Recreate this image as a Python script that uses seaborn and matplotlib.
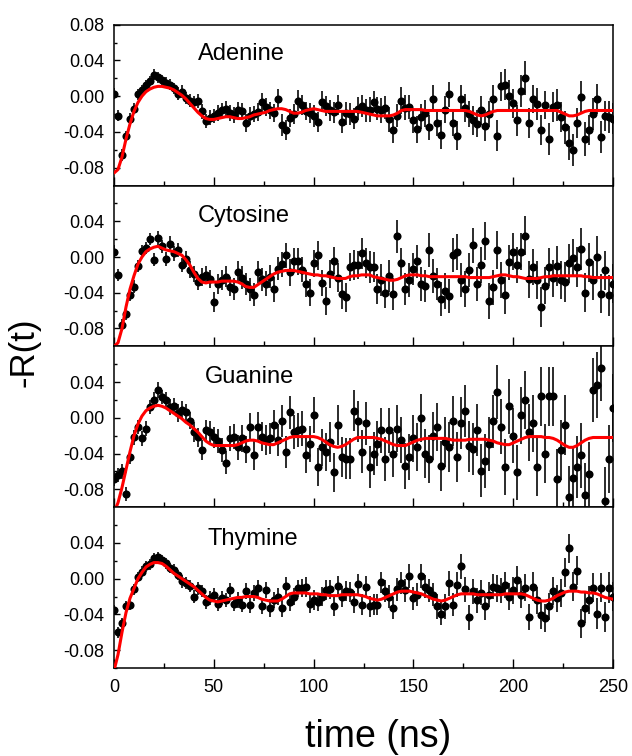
import numpy as np
import pandas as pd
import matplotlib
matplotlib.use("Agg")
import matplotlib.pyplot as plt
import seaborn as sns
from matplotlib.ticker import MultipleLocator, FixedLocator, FormatStrFormatter

# ---------------- data (values in units of 1e-3) ----------------
SCALE = 1e-3
time_ns = list(range(0, 251, 2))
bases = ["Adenine", "Cytosine", "Guanine", "Thymine"]

adenine_data = [
    3, -22, -66, -45, -25, -14, 2, 7, 12, 17,
    24, 21, 18, 15, 13, 9, 3, 5, -2, -5,
    -7, -5, -17, -28, -24, -22, -19, -16, -14, -19,
    -21, -16, -17, -30, -22, -20, -18, -7, -12, -16,
    -19, -3, -32, -38, -24, -20, -5, -10, -17, -19,
    -22, -29, -6, -11, -16, -18, -10, -29, -19, -20,
    -25, -14, -11, -16, -15, -6, -14, -16, -13, -26,
    -38, -22, -5, -13, -12, -27, -37, -23, -19, -35,
    -3, -30, -43, -15, 2, -30, -44, -3, -13, -20,
    -27, -31, -16, -33, -20, -3, -44, 11, 13, 0,
    -8, -27, 6, 20, -30, -3, -9, -38, -10, -48,
    -12, -10, -23, -35, -52, -60, -30, -1, -48, -38,
    -20, -3, -46, -22, -23, -25]
adenine_err = [
    6, 6, 7, 6, 6, 6, 6, 6, 6, 6,
    6, 6, 6, 6, 6, 6, 7, 7, 7, 7,
    7, 8, 8, 8, 8, 8, 9, 8, 9, 9,
    9, 10, 9, 10, 10, 9, 10, 11, 10, 10,
    10, 11, 12, 11, 10, 11, 12, 11, 10, 11,
    12, 11, 12, 11, 12, 12, 11, 12, 13, 12,
    12, 13, 12, 13, 14, 12, 13, 14, 13, 14,
    14, 13, 15, 14, 13, 14, 15, 14, 15, 14,
    15, 14, 16, 15, 14, 15, 16, 15, 16, 15,
    16, 15, 16, 17, 15, 16, 17, 16, 17, 18,
    16, 17, 18, 19, 17, 16, 18, 17, 16, 18,
    17, 18, 17, 18, 19, 18, 17, 18, 19, 17,
    18, 17, 18, 17, 18, 17]
adenine_fit = [
    -86, -82, -68, -48, -31, -17, -7, 0, 5, 8,
    10, 11, 11, 10, 9, 7, 4, 1, -3, -8,
    -13, -18, -22, -25, -26, -26, -25, -24, -23, -23,
    -24, -25, -25, -24, -23, -21, -20, -19, -18, -16,
    -15, -14, -14, -15, -17, -19, -19, -18, -16, -15,
    -14, -15, -16, -17, -17, -17, -17, -17, -17, -17,
    -17, -17, -18, -19, -20, -21, -22, -22, -22, -22,
    -21, -19, -16, -15, -15, -15, -15, -15, -16, -16,
    -16, -16, -16, -16, -16, -16, -16, -16, -16, -17,
    -19, -21, -22, -21, -19, -17, -16, -16, -16, -16,
    -16, -16, -16, -16, -16, -16, -16, -16, -16, -16,
    -16, -16, -18, -20, -22, -22, -21, -19, -17, -16,
    -16, -16, -16, -16, -16, -16]

cytosine_data = [
    6, -20, -76, -64, -42, -33, -10, 7, 10, 20,
    -3, 21, 12, -2, 15, 4, 8, -9, -2, -14,
    -19, -28, -22, -20, -25, -50, -30, -26, -22, -33,
    -36, -17, -23, -30, -36, -42, -17, -25, -30, -22,
    -36, -13, -8, 2, -17, -4, -5, -14, -30, -40,
    -7, 2, -29, -49, -19, -4, -23, -41, -45, -11,
    -9, -9, 4, -7, -11, -11, -36, -26, -40, -21,
    -41, 23, -7, -36, -26, -13, -5, -30, -32, 8,
    -21, -30, -47, -38, -44, 2, 6, -26, -36, -15,
    13, -30, -9, 18, -49, -34, 8, -26, -43, -6,
    6, -9, 6, 24, -25, -11, -26, -56, -32, -11,
    -24, -10, -26, -28, -7, -1, -11, 9, -40, -6,
    -26, 0, -41, -15, -43, -30]
cytosine_err = [
    7, 7, 7, 7, 7, 7, 7, 7, 7, 7,
    7, 8, 7, 8, 8, 8, 8, 8, 9, 9,
    9, 9, 10, 10, 10, 11, 11, 11, 12, 11,
    12, 12, 13, 12, 13, 13, 12, 13, 14, 13,
    14, 13, 14, 14, 15, 14, 15, 14, 15, 15,
    15, 16, 15, 16, 16, 15, 16, 17, 16, 16,
    17, 16, 17, 17, 18, 17, 17, 18, 17, 18,
    18, 18, 17, 18, 19, 18, 18, 19, 18, 19,
    19, 18, 19, 20, 19, 19, 20, 19, 20, 19,
    20, 19, 20, 21, 20, 20, 21, 20, 21, 20,
    21, 20, 21, 22, 21, 20, 21, 22, 21, 21,
    21, 22, 21, 22, 22, 21, 22, 23, 22, 22,
    22, 23, 22, 22, 23, 22]
cytosine_fit = [
    -100, -96, -80, -56, -36, -21, -8, 0, 6, 9,
    11, 12, 10, 8, 7, 6, 4, 2, -3, -9,
    -17, -24, -28, -29, -28, -28, -28, -27, -27, -27,
    -27, -28, -30, -33, -34, -34, -31, -28, -25, -22,
    -19, -17, -16, -15, -15, -15, -16, -17, -18, -19,
    -20, -20, -21, -21, -22, -23, -24, -24, -24, -22,
    -21, -21, -20, -20, -20, -22, -23, -24, -25, -26,
    -26, -25, -23, -21, -20, -20, -20, -21, -21, -22,
    -22, -22, -22, -22, -22, -22, -22, -22, -22, -23,
    -23, -23, -23, -23, -23, -22, -21, -20, -20, -21,
    -22, -22, -23, -24, -24, -24, -24, -23, -22, -22,
    -21, -21, -21, -21, -21, -21, -21, -21, -22, -22,
    -23, -23, -23, -23, -23, -23]

guanine_data = [
    -68, -64, -60, -85, -44, -22, -10, -23, -12, 12,
    20, 31, 23, 20, 12, 13, 5, 9, 6, -3,
    -16, -22, -36, -14, -16, -22, -26, -36, -50, -23,
    -21, -33, -23, -35, -10, -42, -10, -21, -25, -23,
    -8, -25, -4, -38, 6, -16, -14, -12, -42, -29,
    3, -55, -33, -38, -27, -61, -8, -44, -46, -46,
    8, -4, -38, -6, -55, -40, -29, -14, -46, -14,
    -41, -12, -25, -54, -44, -23, -33, 0, -40, -46,
    -20, -10, -54, -27, -33, -3, -44, -6, 8, -32,
    -35, -14, -59, -48, -29, -4, 29, -10, -55, 13,
    -20, -61, 3, 20, -16, -6, -55, 24, -40, 24,
    24, -69, -36, -8, -89, -67, -55, -42, -86, -63,
    31, 37, 56, -93, -46, 11]
guanine_err = [
    8, 8, 8, 8, 8, 8, 8, 8, 8, 8,
    9, 9, 8, 9, 9, 9, 10, 10, 10, 10,
    11, 11, 11, 12, 12, 12, 13, 13, 13, 14,
    14, 14, 15, 15, 15, 16, 16, 16, 17, 17,
    17, 18, 18, 18, 19, 19, 19, 20, 20, 20,
    20, 21, 21, 21, 22, 22, 22, 22, 23, 23,
    23, 23, 24, 24, 24, 24, 25, 25, 25, 25,
    25, 26, 26, 26, 26, 26, 27, 27, 27, 27,
    27, 27, 28, 28, 28, 28, 28, 29, 29, 29,
    29, 29, 30, 30, 30, 30, 30, 31, 31, 31,
    31, 31, 32, 32, 32, 32, 33, 33, 33, 33,
    33, 34, 34, 34, 35, 35, 35, 36, 36, 36,
    36, 37, 37, 38, 38, 38]
guanine_fit = [
    -106, -95, -78, -58, -38, -20, -7, 2, 8, 11,
    13, 14, 13, 11, 8, 5, 2, -1, -5, -8,
    -12, -16, -21, -26, -29, -31, -31, -31, -31, -31,
    -31, -30, -28, -26, -25, -25, -26, -28, -29, -30,
    -30, -28, -26, -24, -22, -21, -21, -21, -21, -21,
    -21, -22, -24, -27, -30, -32, -33, -32, -30, -27,
    -24, -22, -22, -22, -22, -22, -23, -24, -26, -28,
    -30, -31, -31, -31, -29, -27, -25, -24, -23, -23,
    -23, -23, -23, -23, -24, -25, -25, -25, -25, -24,
    -24, -24, -24, -24, -25, -26, -28, -29, -30, -30,
    -28, -26, -24, -22, -21, -21, -21, -21, -22, -22,
    -23, -25, -28, -31, -33, -33, -31, -28, -25, -23,
    -22, -22, -22, -22, -22, -22]

thymine_data = [
    -35, -60, -50, -31, -29, -12, 2, 8, 14, 16,
    23, 24, 21, 17, 12, 10, 4, -3, -5, -8,
    -20, -11, -14, -26, -22, -18, -28, -22, -24, -13,
    -28, -24, -29, -14, -29, -16, -11, -31, -13, -33,
    -24, -20, -33, -8, -26, -20, -11, -10, -9, -28,
    -24, -26, -20, -13, -12, -31, -8, -20, -14, -15,
    -26, -6, -29, -9, -31, -29, -29, -4, -14, -20,
    -33, -12, -5, -13, 3, -22, -18, 3, -9, -13,
    -18, -31, -39, -31, -5, -29, -7, 14, -12, -43,
    -14, -24, -16, -31, -18, -9, -11, -13, -7, -20,
    -13, -1, -18, -10, -43, -9, -24, -41, -44, -31,
    -14, -22, -16, 7, 34, -9, 9, -50, -33, -24,
    -10, -39, -10, -43, -10, -20]
thymine_err = [
    6, 6, 6, 6, 6, 6, 6, 6, 6, 6,
    6, 6, 6, 6, 6, 6, 6, 7, 7, 7,
    7, 7, 7, 8, 8, 8, 8, 8, 8, 8,
    8, 9, 8, 9, 9, 9, 9, 9, 9, 10,
    9, 10, 10, 10, 10, 10, 10, 10, 11, 10,
    11, 10, 11, 11, 11, 11, 11, 12, 11, 11,
    12, 11, 12, 12, 12, 12, 12, 12, 12, 13,
    12, 13, 12, 13, 13, 13, 13, 13, 13, 13,
    13, 14, 13, 14, 14, 13, 14, 14, 14, 14,
    14, 14, 14, 15, 14, 14, 15, 14, 15, 15,
    15, 15, 15, 15, 15, 16, 15, 15, 16, 15,
    16, 15, 16, 16, 16, 16, 16, 16, 17, 16,
    16, 17, 16, 17, 17, 16]
thymine_fit = [
    -103, -85, -60, -38, -22, -11, 0, 7, 13, 16,
    18, 18, 17, 14, 10, 6, 3, 0, -3, -6,
    -9, -13, -17, -21, -24, -25, -26, -25, -24, -23,
    -22, -21, -21, -20, -20, -20, -21, -23, -24, -25,
    -25, -25, -23, -20, -17, -16, -16, -16, -16, -17,
    -17, -17, -18, -18, -19, -19, -19, -18, -18, -18,
    -18, -18, -19, -20, -22, -23, -24, -23, -21, -19,
    -17, -15, -14, -14, -14, -15, -16, -17, -19, -21,
    -23, -24, -25, -24, -22, -20, -18, -17, -17, -17,
    -17, -18, -18, -18, -18, -18, -18, -18, -17, -17,
    -17, -17, -17, -18, -20, -22, -24, -25, -25, -24,
    -22, -19, -17, -15, -14, -14, -14, -15, -15, -16,
    -16, -17, -19, -21, -22, -23]

series = {
    "Adenine": (adenine_data, adenine_err, adenine_fit),
    "Cytosine": (cytosine_data, cytosine_err, cytosine_fit),
    "Guanine": (guanine_data, guanine_err, guanine_fit),
    "Thymine": (thymine_data, thymine_err, thymine_fit),
}

frames = []
for name in bases:
    d, e, f = series[name]
    frames.append(pd.DataFrame({
        "time": time_ns,
        "value": np.array(d) * SCALE,
        "err": np.array(e) * SCALE,
        "fit": np.array(f) * SCALE,
        "base": name,
    }))
df = pd.concat(frames, ignore_index=True)

# ---------------- style ----------------
sns.set_theme(style="ticks")
plt.rcParams['font.family'] = ['Liberation Sans', 'DejaVu Sans']
plt.rcParams['axes.unicode_minus'] = False

fig, axes = plt.subplots(4, 1, figsize=(6.32, 7.56), dpi=100, sharex=True)
fig.subplots_adjust(left=0.1804, right=0.970, bottom=0.1164, top=0.9673, hspace=0)

label_pos = {
    "Adenine": (0.168, 0.78),
    "Cytosine": (0.168, 0.773),
    "Guanine": (0.182, 0.772),
    "Thymine": (0.188, 0.764),
}

for i, (ax, name) in enumerate(zip(axes, bases)):
    sub = df[df["base"] == name]
    ax.errorbar(sub["time"], sub["value"], yerr=sub["err"], fmt="none",
                ecolor="#111111", elinewidth=1.25, capsize=0, zorder=2)
    sns.scatterplot(data=sub, x="time", y="value", ax=ax, color="black",
                    s=34, linewidth=0, zorder=3, legend=False)
    sns.lineplot(data=sub, x="time", y="fit", ax=ax, color="#ff0000",
                 linewidth=2.2, estimator=None, zorder=4, legend=False)
    ax.set_xlim(0, 250)
    ax.set_ylim(-0.10, 0.08)
    ax.set_xlabel("")
    ax.set_ylabel("")
    if i == 0:
        ax.yaxis.set_major_locator(FixedLocator([-0.08, -0.04, 0.0, 0.04, 0.08]))
    else:
        ax.yaxis.set_major_locator(FixedLocator([-0.08, -0.04, 0.0, 0.04]))
    ax.yaxis.set_minor_locator(FixedLocator([-0.10, -0.06, -0.02, 0.02, 0.06]))
    ax.yaxis.set_major_formatter(FormatStrFormatter("%.2f"))
    ax.xaxis.set_major_locator(MultipleLocator(50))
    ax.xaxis.set_minor_locator(MultipleLocator(25))
    ax.tick_params(axis="both", which="both", direction="in", top=False,
                   right=False, colors="black", width=1.0, labelsize=13)
    ax.tick_params(axis="x", which="major", length=6.5, pad=8)
    ax.tick_params(axis="x", which="minor", length=3.5)
    ax.tick_params(axis="y", which="major", length=4.5, pad=7)
    ax.tick_params(axis="y", which="minor", length=2.5)
    for sp in ax.spines.values():
        sp.set_visible(True)
        sp.set_color("black")
        sp.set_linewidth(1.1)
    tx, ty = label_pos[name]
    ax.text(tx, ty, name, transform=ax.transAxes, ha="left", va="baseline",
            fontsize=17, color="black")

fig.text(378 / 632, 9 / 756, "time (ns)", ha="center", va="baseline",
         fontsize=27, color="black")
fig.text(24 / 632, 1 - 352 / 756, "-R(t)", ha="center", va="center",
         rotation=90, fontsize=25, color="black")

fig.savefig("out.png", dpi=100)
